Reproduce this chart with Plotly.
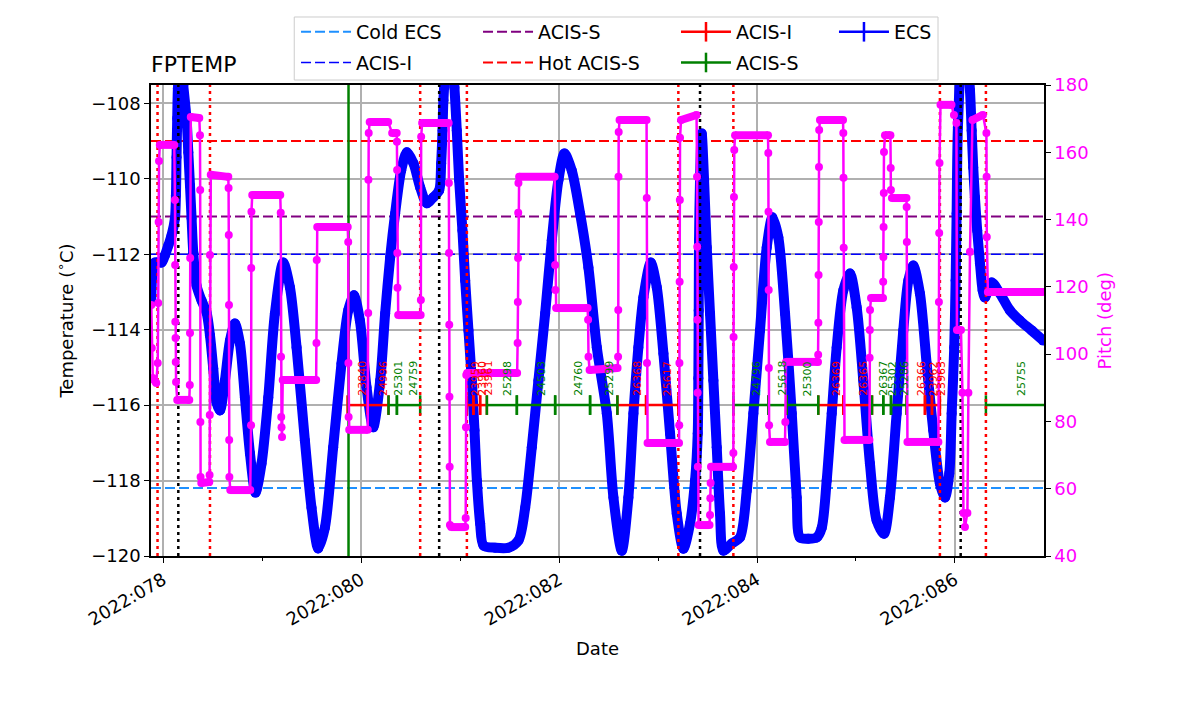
import pandas as pd
import plotly.graph_objects as go

# FPTEMP samples, time as 2022 day-of-year, temperature in deg C
temp_doy = [77.879, 77.916, 77.983, 78.017, 78.051, 78.084, 78.118, 78.128, 78.134, 78.141,
            78.148, 78.175, 78.202, 78.235, 78.253, 78.270, 78.286, 78.303, 78.336, 78.387,
            78.437, 78.472, 78.505, 78.538, 78.573, 78.623, 78.674, 78.724, 78.775, 78.825,
            78.876, 78.932, 78.993, 79.061, 79.128, 79.212, 79.280, 79.347, 79.431, 79.498,
            79.566, 79.633, 79.717, 79.801, 79.869, 79.926, 79.987, 80.054, 80.121, 80.192,
            80.242, 80.293, 80.343, 80.404, 80.462, 80.528, 80.596, 80.663, 80.730, 80.788,
            80.808, 80.822, 80.831, 80.889, 80.942, 80.966, 80.990, 81.023, 81.051, 81.084,
            81.118, 81.145, 81.169, 81.202, 81.236, 81.354, 81.488, 81.589, 81.657, 81.724,
            81.791, 81.859, 81.926, 81.993, 82.054, 82.128, 82.212, 82.296, 82.381, 82.482,
            82.549, 82.633, 82.700, 82.751, 82.801, 82.852, 82.926, 82.987, 83.054, 83.121,
            83.189, 83.256, 83.323, 83.374, 83.401, 83.407, 83.411, 83.414, 83.424, 83.441,
            83.465, 83.492, 83.525, 83.559, 83.593, 83.626, 83.660, 83.744, 83.828, 83.896,
            83.963, 84.030, 84.098, 84.155, 84.215, 84.283, 84.351, 84.401, 84.434, 84.518,
            84.603, 84.654, 84.704, 84.755, 84.805, 84.872, 84.939, 85.007, 85.074, 85.141,
            85.209, 85.283, 85.343, 85.411, 85.478, 85.529, 85.579, 85.646, 85.714, 85.781,
            85.848, 85.899, 85.943, 85.967, 85.993, 86.007, 86.017, 86.030, 86.091, 86.152,
            86.169, 86.185, 86.202, 86.225, 86.253, 86.280, 86.303, 86.371, 86.455, 86.556,
            86.657, 86.775, 86.892]
temp_c = [-113.23, -112.22, -112.22, -112.03, -111.77, -111.50, -111.05, -110.44, -109.43, -108.40,
          -107.60, -106.60, -107.52, -108.40, -109.30, -110.18, -111.05, -111.95, -112.83, -113.23,
          -113.54, -114.15, -115.03, -115.93, -116.14, -115.35, -114.29, -113.84, -114.37, -115.80,
          -117.28, -118.32, -117.55, -115.80, -113.57, -112.22, -112.88, -114.47, -116.94, -118.72,
          -119.80, -119.25, -117.12, -114.90, -113.49, -113.09, -113.76, -115.53, -116.59, -115.35,
          -113.57, -112.08, -110.92, -109.78, -109.30, -109.59, -110.23, -110.65, -110.49, -110.31,
          -109.59, -108.72, -107.92, -105.80, -107.58, -108.72, -110.04, -111.37, -112.70, -114.02,
          -115.35, -116.67, -118.00, -119.14, -119.72, -119.78, -119.78, -119.59, -118.72, -117.12,
          -115.35, -113.57, -111.63, -110.04, -109.33, -109.78, -110.92, -112.35, -114.47, -116.22,
          -118.45, -119.86, -118.45, -116.22, -114.47, -113.14, -112.22, -112.88, -114.63, -116.75,
          -118.88, -119.81, -119.14, -118.00, -116.75, -115.29, -113.49, -111.63, -110.04, -108.80,
          -110.04, -111.82, -113.57, -115.35, -117.12, -118.88, -119.86, -119.67, -119.51, -118.27,
          -116.22, -114.02, -111.82, -111.02, -111.55, -113.57, -116.22, -118.45, -119.51, -119.54,
          -119.51, -119.25, -118.00, -116.22, -114.47, -112.96, -112.51, -113.41, -115.35, -117.55,
          -119.06, -119.41, -118.45, -116.22, -114.02, -112.70, -112.30, -113.04, -114.90, -116.67,
          -118.08, -118.45, -117.81, -116.22, -114.47, -112.70, -110.92, -108.64, -105.60, -107.66,
          -108.72, -109.70, -110.49, -111.37, -112.24, -112.96, -113.15, -112.75, -113.04, -113.49,
          -113.76, -114.02, -114.29]

# spacecraft pitch, deg
pitch_doy = [77.879, 77.884, 77.894, 77.929, 77.944, 77.949, 77.953, 77.957, 77.965, 78.111,
             78.118, 78.120, 78.122, 78.124, 78.126, 78.129, 78.141, 78.263, 78.268, 78.270,
             78.272, 78.278, 78.364, 78.371, 78.373, 78.375, 78.377, 78.384, 78.465, 78.468,
             78.470, 78.472, 78.480, 78.657, 78.660, 78.662, 78.664, 78.666, 78.668, 78.677,
             78.879, 78.887, 78.889, 78.891, 78.899, 79.182, 79.187, 79.190, 79.192, 79.195,
             79.200, 79.207, 79.545, 79.548, 79.551, 79.556, 79.864, 79.869, 79.871, 79.873,
             79.879, 80.066, 80.071, 80.073, 80.076, 80.086, 80.273, 80.313, 80.359, 80.361,
             80.363, 80.365, 80.367, 80.374, 80.601, 80.603, 80.606, 80.616, 80.884, 80.886,
             80.888, 80.890, 80.892, 80.894, 80.897, 80.909, 81.051, 81.056, 81.059, 81.062,
             81.071, 81.576, 81.581, 81.583, 81.585, 81.587, 81.589, 81.596, 81.955, 81.960,
             81.963, 81.970, 82.288, 82.293, 82.297, 82.308, 82.591, 82.596, 82.598, 82.600,
             82.602, 82.611, 82.884, 82.886, 82.888, 82.894, 83.212, 83.214, 83.216, 83.218,
             83.220, 83.222, 83.232, 83.389, 83.394, 83.396, 83.398, 83.400, 83.402, 83.409,
             83.520, 83.525, 83.528, 83.531, 83.535, 83.758, 83.761, 83.763, 83.765, 83.767,
             83.770, 83.778, 84.111, 84.114, 84.116, 84.118, 84.120, 84.122, 84.131, 84.283,
             84.286, 84.293, 84.616, 84.618, 84.620, 84.622, 84.624, 84.626, 84.628, 84.636,
             84.869, 84.872, 84.874, 84.876, 84.884, 85.136, 85.138, 85.140, 85.142, 85.152,
             85.273, 85.275, 85.277, 85.279, 85.281, 85.283, 85.293, 85.348, 85.351, 85.353,
             85.364, 85.510, 85.512, 85.514, 85.520, 85.833, 85.838, 85.841, 85.844, 85.854,
             85.965, 85.990, 86.015, 86.020, 86.061, 86.076, 86.086, 86.101, 86.126, 86.136,
             86.152, 86.177, 86.283, 86.318, 86.320, 86.322, 86.333, 86.892]
pitch_deg = [114.6, 101.8, 92.9, 91.4, 97.4, 115.2, 139.3, 157.4, 162.2, 162.2,
             145.8, 126.5, 109.6, 104.8, 97.7, 91.7, 86.4, 86.4, 90.8, 106.3,
             128.6, 170.5, 170.2, 165.1, 148.8, 79.8, 63.5, 61.7, 62.0, 64.1,
             81.9, 129.5, 153.3, 152.7, 149.4, 135.4, 114.6, 74.5, 63.5, 59.6,
             59.6, 78.9, 125.6, 142.3, 147.3, 147.3, 142.0, 99.2, 81.3, 78.3,
             75.4, 92.3, 92.3, 103.3, 128.0, 137.8, 137.8, 133.3, 97.4, 81.3,
             77.5, 77.5, 112.2, 151.8, 165.7, 169.0, 169.0, 165.7, 165.7, 163.1,
             154.7, 130.1, 119.7, 111.6, 111.6, 116.1, 164.6, 168.7, 168.7, 150.9,
             130.1, 108.7, 87.3, 66.5, 49.2, 48.6, 48.6, 51.3, 78.3, 93.8,
             94.4, 94.4, 103.3, 115.5, 128.6, 142.0, 150.9, 152.7, 152.7, 126.5,
             119.1, 113.7, 113.7, 110.2, 99.2, 95.3, 95.9, 99.2, 113.1, 152.7,
             166.0, 169.6, 169.6, 146.4, 97.4, 73.6, 73.6, 78.9, 97.4, 121.5,
             145.8, 164.3, 169.6, 171.1, 152.7, 131.9, 110.2, 88.5, 66.5, 49.2,
             49.2, 52.2, 57.2, 61.7, 66.5, 66.5, 70.6, 105.1, 125.9, 146.7,
             160.7, 165.1, 165.1, 159.8, 142.3, 119.1, 95.9, 78.9, 73.9, 73.9,
             79.8, 97.7, 97.7, 99.8, 109.3, 123.5, 139.3, 155.6, 166.6, 169.6,
             169.6, 165.7, 152.4, 131.6, 74.5, 74.5, 98.9, 107.2, 113.1, 116.7,
             116.7, 121.5, 128.9, 137.8, 147.9, 160.1, 165.1, 165.1, 155.3, 148.8,
             146.4, 146.4, 143.7, 133.3, 73.9, 73.9, 115.5, 136.0, 156.8, 174.1,
             174.1, 171.1, 168.7, 107.2, 107.2, 88.5, 52.8, 48.6, 52.8, 88.5,
             130.4, 169.6, 171.1, 165.7, 152.7, 134.8, 118.5, 118.5]

# observations drawn on the -116 C line
acis_i_obsid = ["23840", "24996", "23959", "23960", "23961", "26368", "25617",
                "26369", "26365", "26366", "23962", "23963"]
acis_i_start = [79.862, 80.064, 81.068, 81.134, 81.202, 82.589, 82.879,
                84.619, 84.872, 85.512, 85.697, 85.768]
acis_i_stop = [80.064, 80.276, 81.134, 81.202, 81.270, 82.879, 83.205,
               84.872, 85.162, 85.697, 85.768, 85.848]

acis_s_obsid = ["25301", "24759", "25298", "24503", "24760", "25299", "24796",
                "25618", "25300", "26367", "25302", "25286", "25755"]
acis_s_start = [80.276, 80.361, 81.270, 81.573, 81.960, 82.313, 83.761,
                84.114, 84.300, 85.162, 85.276, 85.354, 86.313]
acis_s_stop = [80.361, 80.596, 81.573, 81.960, 82.313, 82.589, 84.114,
               84.300, 84.619, 85.276, 85.354, 85.512, 86.920]

ecs_obsid = []
ecs_start = []
ecs_stop = []

obs_line_temp = -116.0

# limit lines
limit_names = ["Cold ECS", "ACIS-I", "ACIS-S", "Hot ACIS-S"]
limit_temps = [-118.2, -112.0, -111.0, -109.0]
limit_colors = ["#1e90ff", "#0000ff", "#800080", "#ff0000"]
limit_widths = [2, 1.5, 2, 2]

# event times (vertical lines)
red_events = [77.942, 78.472, 80.596, 81.068, 83.205, 83.761, 85.848, 86.313]
black_events = [78.152, 80.788, 83.424, 86.058]
green_events = [79.872]

x_lo, x_hi = 77.876, 86.900
t_lo, t_hi = -120.0, -107.515
p_lo, p_hi = 40, 180

base = pd.Timestamp("2021-12-31")


def to_date(d):
    if d is None:
        return None
    return base + pd.Timedelta(days=d)


FONT = "DejaVu Sans"
fig = go.Figure()

legend_of = {"Cold ECS": "legend", "ACIS-I": "legend", "ACIS-S": "legend2", "Hot ACIS-S": "legend2"}
for name, val, col, w in zip(limit_names, limit_temps, limit_colors, limit_widths):
    fig.add_trace(go.Scatter(
        x=[to_date(x_lo), to_date(x_hi)], y=[val, val], mode="lines",
        line=dict(color=col, width=w, dash="10px,4px"),
        name=name, legend=legend_of[name], legendgroup=name + "lim",
        hoverinfo="skip"))

fig.add_trace(go.Scatter(
    x=[to_date(d) for d in temp_doy], y=temp_c, mode="lines+markers",
    line=dict(color="#0000ff", width=10, shape="spline", smoothing=0.8),
    marker=dict(color="#0000ff", size=10),
    showlegend=False, hovertemplate="%{x}<br>%{y:.2f} C<extra></extra>"))


def seg_trace(starts, stops, color, name, leg):
    xs, ys = [], []
    for a, b in zip(starts, stops):
        xs += [to_date(a), to_date(b), None]
        ys += [obs_line_temp, obs_line_temp, None]
    if not xs:
        xs, ys = [None], [None]
    return go.Scatter(
        x=xs, y=ys, mode="lines+markers", name=name, legend=leg,
        legendgroup=name + "seg",
        line=dict(color=color, width=2.5),
        marker=dict(symbol="line-ns", size=14, line=dict(color=color, width=2.5)),
        hoverinfo="skip")


fig.add_trace(seg_trace(acis_i_start, acis_i_stop, "#ff0000", "ACIS-I", "legend3"))
fig.add_trace(seg_trace(acis_s_start, acis_s_stop, "#008000", "ACIS-S", "legend3"))
fig.add_trace(seg_trace(ecs_start, ecs_stop, "#0000ff", "ECS", "legend4"))


def vlines(times, color, dash, width):
    xs, ys = [], []
    for t in times:
        xs += [to_date(t), to_date(t), None]
        ys += [t_lo, t_hi, None]
    return go.Scatter(x=xs, y=ys, mode="lines", showlegend=False, hoverinfo="skip",
                      line=dict(color=color, dash=dash, width=width))


fig.add_trace(vlines(red_events, "#ff0000", "3px,4px", 2.5))
fig.add_trace(vlines(black_events, "#000000", "3px,4px", 2.5))
fig.add_trace(vlines(green_events, "#008000", "solid", 2.5))

# dwell bands: consecutive pitch samples at nearly the same attitude
band_x, band_y = [], []
for i in range(len(pitch_doy) - 1):
    if abs(pitch_deg[i + 1] - pitch_deg[i]) <= 2.0 and pitch_doy[i + 1] - pitch_doy[i] >= 0.02:
        band_x += [to_date(pitch_doy[i]), to_date(pitch_doy[i + 1]), None]
        band_y += [pitch_deg[i], pitch_deg[i + 1], None]
fig.add_trace(go.Scatter(x=band_x, y=band_y, yaxis="y2", mode="lines",
                         line=dict(color="#ff00ff", width=8), showlegend=False,
                         hoverinfo="skip"))
fig.add_trace(go.Scatter(
    x=[to_date(d) for d in pitch_doy], y=pitch_deg, yaxis="y2", mode="lines+markers",
    line=dict(color="#ff00ff", width=2.5), marker=dict(color="#ff00ff", size=8),
    showlegend=False, hovertemplate="%{x}<br>%{y:.1f} deg<extra></extra>"))

annotations = []
for starts, stops, ids, col in [(acis_i_start, acis_i_stop, acis_i_obsid, "#ff0000"),
                                (acis_s_start, acis_s_stop, acis_s_obsid, "#008000"),
                                (ecs_start, ecs_stop, ecs_obsid, "#0000ff")]:
    for a, b, oid in zip(starts, stops, ids):
        annotations.append(dict(
            x=to_date((a + b) / 2), y=obs_line_temp, xref="x", yref="y",
            text=oid, textangle=-90, showarrow=False, xanchor="left", yanchor="bottom",
            yshift=7, xshift=-3, font=dict(family=FONT, size=11, color=col)))

annotations.append(dict(text="FPTEMP", xref="paper", yref="paper", x=0, y=1,
                        xanchor="left", yanchor="bottom", yshift=6, xshift=-2,
                        showarrow=False,
                        font=dict(family=FONT, size=22, color="black")))

# right-hand axis title
annotations.append(dict(text="Pitch (deg)", xref="paper", yref="paper", x=1.0683, y=0.5,
                        xanchor="center", yanchor="middle", textangle=-90, showarrow=False,
                        font=dict(family=FONT, size=18, color="#ff00ff")))

axis_common = dict(showline=True, linecolor="black", linewidth=1.5, ticks="outside",
                   ticklen=5, tickwidth=1.2, tickcolor="black", zeroline=False,
                   tickfont=dict(family=FONT, size=18, color="black"))

legend_common = dict(orientation="v", xanchor="left", yanchor="top", bgcolor="rgba(0,0,0,0)",
                     borderwidth=0, tracegroupgap=3, itemwidth=50,
                     font=dict(family=FONT, size=19, color="black"))

fig.update_layout(
    width=1200, height=714,
    margin=dict(l=143, r=164, t=77, b=166, autoexpand=False),
    paper_bgcolor="white", plot_bgcolor="white",
    font=dict(family=FONT, size=18, color="black"),
    xaxis=dict(**axis_common, type="date", automargin=True,
               range=[to_date(x_lo), to_date(x_hi)],
               tick0=to_date(78.0), dtick=2 * 86400000, tickformat="%Y:%j", tickangle=-30,
               minor=dict(dtick=86400000, tick0=to_date(78.0), ticks="outside", ticklen=3,
                          tickcolor="black", showgrid=False),
               showgrid=True, gridcolor="#b0b0b0", gridwidth=1.5, mirror=True,
               title=dict(text="Date", standoff=14, font=dict(family=FONT, size=18))),
    yaxis=dict(**axis_common, range=[t_lo, t_hi], tick0=-120, dtick=2, automargin=True,
               showgrid=True, gridcolor="#b0b0b0", gridwidth=1.5,
               title=dict(text="Temperature (<sup>∘</sup>C)", standoff=13,
                          font=dict(family=FONT, size=18))),
    yaxis2=dict(showline=True, linecolor="black", linewidth=1.5, ticks="outside",
                ticklen=5, tickwidth=1.2, tickcolor="black", zeroline=False,
                overlaying="y", side="right", range=[p_lo, p_hi], tick0=40, dtick=20,
                showgrid=False, tickfont=dict(family=FONT, size=18, color="#ff00ff")),
    legend=dict(**legend_common, x=0.1624, y=1.153),
    legend2=dict(**legend_common, x=0.3662, y=1.153),
    legend3=dict(**legend_common, x=0.5879, y=1.153),
    legend4=dict(**legend_common, x=0.7648, y=1.153),
    shapes=[dict(type="rect", xref="paper", yref="paper", x0=0.1604, x1=0.8813,
                 y0=1.0106, y1=1.1444, line=dict(color="#cccccc", width=1),
                 fillcolor="rgba(0,0,0,0)")],
    annotations=annotations,
    showlegend=True,
)

fig.write_html("out.html")
